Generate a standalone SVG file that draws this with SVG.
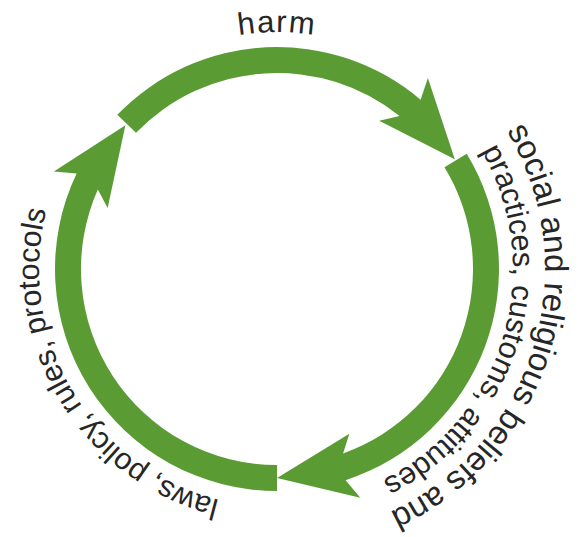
<svg xmlns="http://www.w3.org/2000/svg" xmlns:xlink="http://www.w3.org/1999/xlink" width="579" height="537" viewBox="0 0 579 537">
  <style>
    .arrow { fill: #5a9c33; stroke: none; }
    .label { font-family: "Liberation Sans", Arial, sans-serif; fill: #262626; }
  </style>
  <defs>
    <path id="p-harm" d="M40,269 A237,237 0 0 1 514,269"/>
    <path id="p-right1" d="M506.72,130.97 A268,268 0 0 1 230.46,532.93"/>
    <path id="p-right2" d="M481.38,151 A236,236 0 0 1 236.02,501.41"/>
    <path id="p-left" d="M219.42,499.93 A238,238 0 0 1 124.02,86.68"/>
  </defs>
  <rect width="579" height="537" fill="#ffffff"/>
  <g id="connectors">
    <path id="arrow-top" class="arrow" d="M117.31,114.79 A222,222 0 0 1 420.59,99.69 L427.89,77.88 L454.82,159.18 L379.21,120.83 L399.53,116.02 A196,196 0 0 0 136.01,132.85 Z"/>
    <path id="arrow-right" class="arrow" d="M466.69,153.67 A222,222 0 0 1 345.60,480.13 L360.28,497.81 L277,478 L349.35,433.82 L343.07,453.53 A196,196 0 0 0 444.47,167.17 Z"/>
    <path id="arrow-left" class="arrow" d="M277,491 A222,222 0 0 1 76.62,173.43 L53.87,171.51 L125.40,125.13 L107.64,208.03 L97.81,189.59 A196,196 0 0 0 277,465 Z"/>
  </g>
  <g id="node-harm">
    <text class="label" font-size="31" letter-spacing="1.5" text-anchor="middle"><textPath xlink:href="#p-harm" href="#p-harm" startOffset="50%">harm</textPath></text>
  </g>
  <g id="node-social">
    <text class="label" font-size="33"><textPath xlink:href="#p-right1" href="#p-right1">social and religious beliefs and</textPath></text>
    <text class="label" font-size="30.5"><textPath xlink:href="#p-right2" href="#p-right2">practices, customs, attitudes</textPath></text>
  </g>
  <g id="node-laws">
    <text class="label" font-size="30.3"><textPath xlink:href="#p-left" href="#p-left">laws, policy, rules, protocols</textPath></text>
  </g>
</svg>
